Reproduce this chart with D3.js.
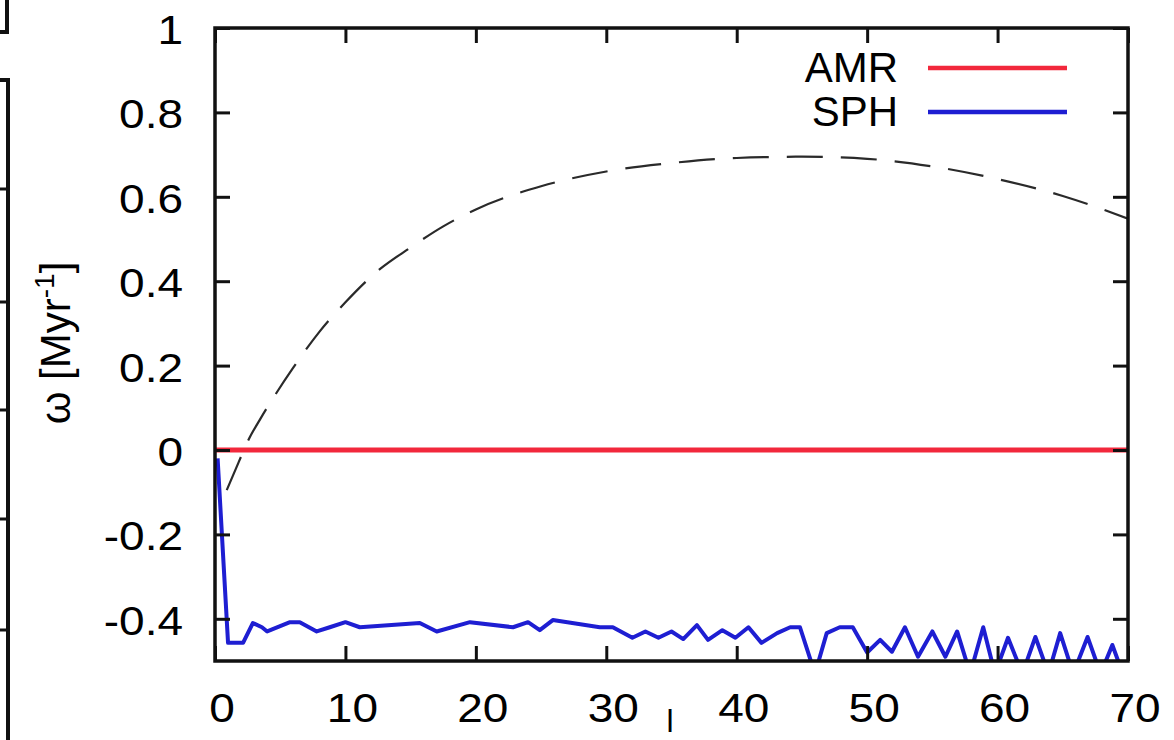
<!DOCTYPE html>
<html>
<head>
<meta charset="utf-8">
<script src="https://cdn.jsdelivr.net/npm/d3@7"></script>
<style>
  html, body { margin: 0; padding: 0; background: #ffffff; }
  svg { display: block; }
  text { font-family: "Liberation Sans", Arial, Helvetica, sans-serif; fill: #000; }
</style>
</head>
<body>
<svg id="chart" width="1174" height="740"></svg>
<script>
// ---------------- data ----------------
const xTickValues = [0, 10, 20, 30, 40, 50, 60, 70];
const xTickLabels = ["0", "10", "20", "30", "40", "50", "60", "70"];
const yTickValues = [-0.4, -0.2, 0, 0.2, 0.4, 0.6, 0.8, 1];
const yTickLabels = ["-0.4", "-0.2", "0", "0.2", "0.4", "0.6", "0.8", "1"];

const seriesNames = ["AMR", "SPH"];

// AMR: flat at zero
const amrL     = [0, 10, 20, 30, 40, 50, 60, 70];
const amrOmega = [0, 0, 0, 0, 0, 0, 0, 0];

// SPH
const sphL = [0.2, 1.0, 2.15, 2.9, 3.6, 4.0, 5.75, 6.5, 7.8, 8.8, 10.0, 11.1, 15.7, 17.0, 19.55,
  22.85, 24.0, 24.9, 25.9, 29.5, 30.5, 32.0, 33.0, 34.0, 35.0, 35.9, 36.95, 37.8, 38.9, 39.9,
  40.9, 41.9, 43.1, 44.1, 44.85, 46.0, 46.9, 47.9, 48.9, 50.0, 51.0, 51.9, 52.9, 53.9, 55.0,
  56.0, 56.9, 57.9, 58.9, 59.8, 60.8, 61.9, 62.9, 63.9, 64.8, 65.8, 66.9, 67.9, 68.8, 69.6];
const sphOmega = [-0.02, -0.457, -0.457, -0.41, -0.42, -0.43, -0.408, -0.408, -0.43, -0.42, -0.408, -0.42, -0.41, -0.43, -0.408,
  -0.42, -0.408, -0.427, -0.403, -0.42, -0.42, -0.445, -0.43, -0.445, -0.43, -0.448, -0.415, -0.45, -0.427, -0.445,
  -0.42, -0.457, -0.434, -0.42, -0.42, -0.53, -0.434, -0.42, -0.42, -0.48, -0.45, -0.478, -0.42, -0.49, -0.43,
  -0.49, -0.43, -0.53, -0.42, -0.53, -0.445, -0.53, -0.443, -0.53, -0.434, -0.53, -0.443, -0.53, -0.462, -0.53];

// dashed analytic curve
const anaL     = [0.9, 1.8, 2.5, 3.5, 4.5, 6, 8, 10, 12.5, 15, 17.5, 20, 25, 30, 35, 40, 45, 50, 55, 60, 65, 70];
const anaOmega = [-0.095, -0.03, 0.02, 0.075, 0.125, 0.195, 0.28, 0.35, 0.425, 0.48, 0.53, 0.57, 0.625, 0.66, 0.68, 0.692, 0.695, 0.69, 0.672, 0.642, 0.602, 0.548];

// ---------------- layout ----------------
const W = 1174, H = 740;
const plot = { left: 215, right: 1128, top: 28, bottom: 661 };
const colors = { AMR: "#f2283c", SPH: "#1e1ed2", ana: "#2a2a2a" };

const svg = d3.select("#chart");
const x = d3.scaleLinear().domain([0, 70]).range([plot.left, plot.right]);
const y = d3.scaleLinear().domain([-0.5, 1]).range([plot.bottom, plot.top]);

svg.append("defs").append("clipPath").attr("id", "clip")
  .append("rect")
  .attr("x", plot.left).attr("y", plot.top)
  .attr("width", plot.right - plot.left).attr("height", plot.bottom - plot.top);

// neighbouring panel edges (cropped figure decoration)
const deco = svg.append("g").attr("stroke", "#111").attr("stroke-width", 4).attr("fill", "none");
deco.append("path").attr("d", "M7,0 V32 H0");
deco.append("path").attr("d", "M0,80 H8 V740");
[189, 302, 410, 519, 630].forEach(v => deco.append("line").attr("x1", 0).attr("x2", 8).attr("y1", v).attr("y2", v).attr("stroke-width", 3));

const clipG = svg.append("g").attr("clip-path", "url(#clip)");

// dashed curve
clipG.append("path")
  .datum(d3.zip(anaL, anaOmega))
  .attr("fill", "none")
  .attr("stroke", colors.ana)
  .attr("stroke-width", 2.2)
  .attr("stroke-dasharray", "36,18")
  .attr("d", d3.line().x(d => x(d[0])).y(d => y(d[1])).curve(d3.curveMonotoneX));

// AMR
clipG.append("path")
  .datum(d3.zip(amrL, amrOmega))
  .attr("fill", "none")
  .attr("stroke", colors.AMR)
  .attr("stroke-width", 5)
  .attr("d", d3.line().x(d => x(d[0])).y(d => y(d[1])));

// SPH
clipG.append("path")
  .datum(d3.zip(sphL, sphOmega))
  .attr("fill", "none")
  .attr("stroke", colors.SPH)
  .attr("stroke-width", 4)
  .attr("stroke-linejoin", "round")
  .attr("d", d3.line().x(d => x(d[0])).y(d => y(d[1])));

// ---------------- axes (gnuplot-style inward ticks, mirrored) ----------------
const tickLen = 15;
const axBottom = svg.append("g").attr("transform", `translate(0,${plot.bottom})`)
  .call(d3.axisBottom(x).tickValues(xTickValues).tickSizeInner(-tickLen).tickSizeOuter(0).tickFormat(""));
const axTop = svg.append("g").attr("transform", `translate(0,${plot.top})`)
  .call(d3.axisTop(x).tickValues(xTickValues).tickSizeInner(-tickLen).tickSizeOuter(0).tickFormat(""));
const axLeft = svg.append("g").attr("transform", `translate(${plot.left},0)`)
  .call(d3.axisLeft(y).tickValues(yTickValues).tickSizeInner(-tickLen).tickSizeOuter(0).tickFormat(""));
const axRight = svg.append("g").attr("transform", `translate(${plot.right},0)`)
  .call(d3.axisRight(y).tickValues(yTickValues).tickSizeInner(-tickLen).tickSizeOuter(0).tickFormat(""));
[axBottom, axTop, axLeft, axRight].forEach(g => {
  g.select(".domain").remove();
  g.selectAll(".tick line").attr("stroke", "#111").attr("stroke-width", 3);
});

// frame
svg.append("rect")
  .attr("x", plot.left).attr("y", plot.top)
  .attr("width", plot.right - plot.left).attr("height", plot.bottom - plot.top)
  .attr("fill", "none").attr("stroke", "#111").attr("stroke-width", 3.5);

// tick labels
const tickFont = 40, stretch = 1.15;
svg.append("g").selectAll("text").data(xTickValues).join("text")
  .attr("transform", (d) => `translate(${x(d) + 7},${plot.bottom + 61}) scale(${stretch},1)`)
  .attr("text-anchor", "middle")
  .attr("font-size", tickFont)
  .text((d, i) => xTickLabels[i]);

svg.append("g").selectAll("text").data(yTickValues).join("text")
  .attr("transform", (d) => `translate(183,${y(d) + 16}) scale(${stretch},1)`)
  .attr("text-anchor", "end")
  .attr("font-size", tickFont)
  .text((d, i) => yTickLabels[i]);

// y-axis title
const yt = svg.append("text")
  .attr("transform", "translate(70,343) rotate(-90)")
  .attr("text-anchor", "middle")
  .attr("font-size", 42);
yt.append("tspan").text("ω [Myr");
yt.append("tspan").attr("font-size", 28).attr("dy", -16).text("-1");
yt.append("tspan").attr("dy", 16).text("]");

// x-axis title (cropped at bottom in the original)
svg.append("text")
  .attr("x", 670).attr("y", 732)
  .attr("text-anchor", "middle")
  .attr("font-size", 32)
  .text("l");

// legend
const legY = [68, 112];
const leg = svg.append("g");
seriesNames.forEach((name, i) => {
  leg.append("text")
    .attr("x", 898).attr("y", legY[i] + 14)
    .attr("text-anchor", "end")
    .attr("font-size", 42)
    .text(name);
  leg.append("line")
    .attr("x1", 928).attr("x2", 1067)
    .attr("y1", legY[i]).attr("y2", legY[i])
    .attr("stroke", colors[name]).attr("stroke-width", 4.5);
});
</script>
</body>
</html>
